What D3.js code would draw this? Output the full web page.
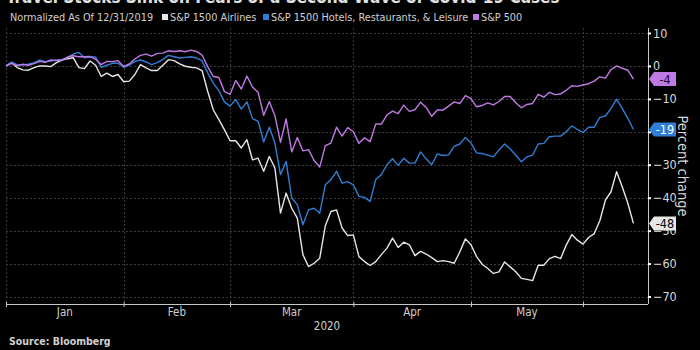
<!DOCTYPE html>
<html>
<head>
<meta charset="utf-8">
<script src="https://cdn.jsdelivr.net/npm/d3@7"></script>
<style>
  html, body { margin: 0; padding: 0; background: #000; }
  svg { display: block; }
  text { font-family: "Liberation Sans Narrow", "Arial Narrow", "DejaVu Sans Condensed", sans-serif; }
</style>
</head>
<body>
<svg id="chart" width="700" height="350"></svg>
<script>
// ---- Data (trading-day index 0 = 12/31/2019) ----
const seriesNames = ["S&P 1500 Airlines", "S&P 1500 Hotels, Restaurants, & Leisure", "S&P 500"];
const monthLabels = ["Jan", "Feb", "Mar", "Apr", "May"];
const monthTickIdx = [0, 21, 40, 62, 83, 103];
const yTicks = [10, 0, -10, -20, -30, -40, -50, -60, -70];

const airlines = [
  0, 1.0, -0.5, -1.2, -1.3, -0.5, 0, 0, -0.2, 1.0,
  1.8, 2.2, 2.5, -0.5, -0.8, 1.5, 0.2, -3.2, -2.2, -3.2,
  -2.6, -4.8, -4.6, -2.6, 0.4, -0.6, -1.4, -1.4, 0.2, 1.9,
  1.6, 0.6, -0.1, -0.4, -0.6, -1.4, -7.7, -13.3, -16.3, -19.4,
  -22.7, -22.7, -24.9, -22.4, -28.5, -28.0, -32.0, -27.5, -31.0, -44.7,
  -38.6, -43.2, -46.2, -57.3, -60.9, -59.9, -58.4, -48.5, -44.2, -43.7,
  -49.2, -51.5, -51.3, -57.9, -59.4, -60.6, -59.4, -57.3, -55.3, -52.3,
  -55.1, -53.5, -54.3, -57.6, -56.3, -57.1, -58.2, -59.4, -59.1, -59.4,
  -59.9, -56.5, -52.5, -54.3, -57.9, -60.2, -61.5, -63.0, -62.5, -59.5,
  -61.0, -62.5, -64.5, -64.8, -65.2, -60.5, -60.5, -58.5, -57.8, -58.5,
  -54.4, -51.2, -52.9, -54.1, -52.1, -50.9, -47.0, -40.7, -38.2, -32.1,
  -36.7, -41.7, -47.8
];
const hotels = [
  0, 1.2, 0.3, 0.3, 0.5, 1.0, 1.8, 1.3, 1.5, 1.8,
  2.0, 2.6, 3.6, 4.1, 2.5, 2.7, 2.7, -0.4, 0.2, 0.8,
  0.8, -0.4, 0.2, 1.4, 1.8, 1.2, 0.4, 1.0, 2.0, 3.2,
  2.8, 2.4, 2.6, 2.8, 2.4, 1.6, -2.1, -5.2, -7.5, -10.9,
  -12.2, -10.2, -13.1, -10.9, -16.0, -16.8, -23.1, -18.6, -23.4, -33.0,
  -29.0, -40.1, -42.1, -48.2, -43.7, -43.2, -44.7, -36.1, -34.5, -32.0,
  -35.6, -35.1, -36.1, -39.6, -39.9, -41.1, -34.5, -33.0, -30.0, -28.2,
  -30.2, -28.0, -29.5, -29.5, -26.1, -28.2, -30.0, -26.7, -27.2, -27.0,
  -24.4, -23.7, -21.7, -23.4, -26.4, -26.6, -27.1, -27.6, -25.5, -23.7,
  -25.2, -27.1, -29.1, -27.6, -27.1, -23.7, -23.5, -21.5, -21.3, -21.3,
  -20.0, -18.2, -19.3, -20.2, -18.6, -18.6, -15.6, -15.2, -12.9, -10.1,
  -12.9, -15.9, -19.3
];
const sp500 = [
  0, 0.8, 0.1, 0.5, 0.2, 0.7, 1.4, 1.1, 1.8, 1.6,
  1.8, 2.7, 3.1, 2.8, 2.8, 2.9, 2.0, 0.4, 1.4, 1.3,
  1.6, -0.2, 0.6, 2.1, 3.2, 3.6, 3.0, 3.8, 3.9, 4.6,
  4.4, 4.6, 4.3, 4.8, 4.4, 3.3, -0.2, -3.2, -3.5, -7.8,
  -8.6, -4.4, -7.0, -3.1, -6.4, -8.0, -15.0, -10.8, -15.1, -23.2,
  -16.1, -26.1, -21.7, -25.8, -25.4, -28.7, -30.7, -24.2, -23.4, -18.6,
  -21.3, -18.7, -20.0, -23.5, -21.8, -23.0, -17.6, -17.7, -14.9, -13.7,
  -14.5, -11.9, -13.8, -13.3, -11.0, -12.6, -15.3, -13.4, -13.4, -12.2,
  -10.9, -11.4, -9.0, -9.9, -12.4, -12.0, -11.2, -11.8, -10.8, -9.3,
  -9.3, -11.2, -12.7, -11.7, -11.4, -8.6, -9.5, -8.0, -8.7, -8.5,
  -7.4, -6.0, -6.2, -5.8, -5.4, -4.6, -3.3, -3.7, -1.1, 0.0,
  -0.7, -1.3, -4.0
];
const endLabels = ["-48", "-19", "-4"];

// ---- Layout ----
const svg = d3.select("#chart");
const colors = ["#e6e6e6", "#2f7fd6", "#c07ae6"];
const labelText = ["#000", "#fff", "#1a0a22"];
const pLeft = 6, pRight = 648, pTop = 28, pBottom = 304;

const x = d3.scaleLinear().domain([0, 114.6]).range([pLeft, pRight]);
const y = d3.scaleLinear().domain([-70, 10]).range([296.5, 33]);

svg.append("rect").attr("width", 700).attr("height", 350).attr("fill", "#000");

// Title (clipped at top, as in the reference)
svg.append("text").attr("x", 6).attr("y", 3)
  .attr("fill", "#e0e0e0").attr("font-weight", "bold").attr("font-size", 17)
  .text("Travel Stocks Sink on Fears of a Second Wave of Covid-19 Cases");

// Legend
const lg = svg.append("g").attr("font-size", 10.8).attr("fill", "#d0d0d0");
lg.append("text").attr("x", 10).attr("y", 21).text("Normalized As Of 12/31/2019");
const legX = [162, 263, 473];
seriesNames.forEach((n, k) => {
  lg.append("rect").attr("x", legX[k]).attr("y", 14).attr("width", 6).attr("height", 6).attr("fill", colors[k]);
  lg.append("text").attr("x", legX[k] + 8).attr("y", 21).text(n);
});

// Gridlines
const grid = svg.append("g").attr("stroke", "#3a3a3a").attr("stroke-dasharray", "2,2").attr("stroke-width", 1);
yTicks.forEach(t => {
  grid.append("line").attr("x1", pLeft).attr("x2", pRight).attr("y1", Math.round(y(t)) + 0.5).attr("y2", Math.round(y(t)) + 0.5);
});
monthTickIdx.forEach(t => {
  grid.append("line").attr("x1", Math.round(x(t)) + 0.5).attr("x2", Math.round(x(t)) + 0.5).attr("y1", pTop).attr("y2", pBottom);
});

// Axes
const axisColor = "#c8c8c8";
const xAxis = d3.axisBottom(x).tickValues(monthTickIdx).tickSize(3).tickFormat("");
const gx = svg.append("g").attr("transform", `translate(0,${pBottom})`).call(xAxis);
gx.select(".domain").attr("stroke", axisColor).attr("d", `M${pLeft},0.5H${pRight}`);
gx.selectAll(".tick line").attr("stroke", axisColor).attr("y1", -2).attr("y2", 3);

const yAxis = d3.axisRight(y).tickValues(yTicks).tickSize(3).tickPadding(2).tickFormat(d3.format("d"));
const gy = svg.append("g").attr("transform", `translate(${pRight},0)`).call(yAxis);
gy.select(".domain").attr("stroke", axisColor).attr("d", `M0.5,${pTop}V${pBottom}`);
gy.selectAll(".tick line").attr("stroke", "#fff").attr("stroke-width", 2).attr("x1", 0);
gy.selectAll(".tick text").attr("fill", "#d8d8d8").attr("font-size", 12.5)
  .style("font-family", "\"Liberation Sans Narrow\", \"Arial Narrow\", \"DejaVu Sans Condensed\", sans-serif");

// Month labels
const ml = svg.append("g").attr("fill", "#d0d0d0").attr("font-size", 11.5).attr("text-anchor", "middle");
monthLabels.forEach((m, k) => {
  ml.append("text").attr("x", (x(monthTickIdx[k]) + x(monthTickIdx[k + 1])) / 2).attr("y", 316).text(m);
});
ml.append("text").attr("x", (pLeft + pRight) / 2).attr("y", 330).text("2020");

// Y axis title
svg.append("text").attr("transform", `translate(678,${(pTop + pBottom) / 2}) rotate(90)`)
  .attr("text-anchor", "middle").attr("fill", "#d8d8d8").attr("font-size", 14.5).text("Percent change");

// Source
svg.append("text").attr("x", 9).attr("y", 345).attr("fill", "#d0d0d0").attr("font-weight", "bold")
  .attr("font-size", 10.5).text("Source: Bloomberg");

// Lines
const allSeries = [airlines, hotels, sp500];
const line = d3.line().x((d, i) => x(i)).y(d => y(d));
allSeries.forEach((s, k) => {
  svg.append("path").datum(s).attr("fill", "none").attr("stroke", colors[k])
    .attr("stroke-width", 1.4).attr("stroke-linejoin", "round").attr("d", line);
});

// End labels
allSeries.forEach((s, k) => {
  const v = s[s.length - 1];
  const cy = y(v);
  const g = svg.append("g").attr("transform", `translate(${pRight + 1},${cy})`);
  g.append("path").attr("d", "M0,0L5,-7H27V7H5Z").attr("fill", colors[k]);
  g.append("text").attr("x", 16).attr("y", 4.5).attr("text-anchor", "middle")
    .attr("font-size", 12.5).attr("fill", labelText[k]).text(endLabels[k]);
});
</script>
</body>
</html>
